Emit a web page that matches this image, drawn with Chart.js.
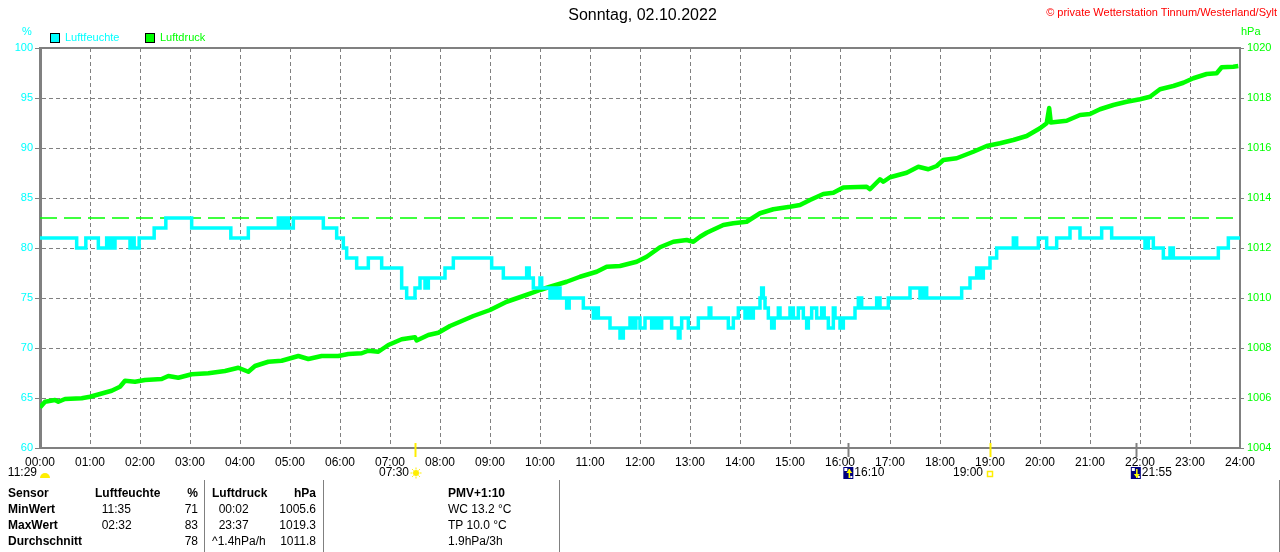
<!DOCTYPE html>
<html>
<head>
<meta charset="utf-8">
<script src="https://cdn.jsdelivr.net/npm/chart.js@4.4.0/dist/chart.umd.min.js"></script>
<style>
  body { margin: 0; background: #fff; }
  #wrap { position: relative; width: 1280px; height: 552px; overflow: hidden; font-family: "Liberation Sans", Arial, sans-serif; }
  #chart { position: absolute; left: 0; top: 0; }
  .t { position: absolute; font-size: 12px; line-height: 16px; white-space: pre; color: #000; }
  .b { font-weight: bold; }
  .sep { position: absolute; top: 480px; width: 1px; height: 72px; background: #808080; }
  #title { position: absolute; left: 0; top: 5px; width: 1285px; text-align: center; font-size: 16px; line-height: 20px; color: #000; }
  #copy { position: absolute; right: 3px; top: 4px; font-size: 11px; line-height: 16px; color: #ff0000; }
</style>
</head>
<body>
<div id="wrap">
  <canvas id="chart" width="1280" height="552"></canvas>
  <div id="title"></div>
  <div id="copy"></div>
</div>
<script>
// Texte
const titleText = "Sonntag, 02.10.2022";
const copyText = "© private Wetterstation Tinnum/Westerland/Sylt";
const seriesLabels = ["Luftfeuchte", "Luftdruck"];
const unitLabels = ["%", "hPa"];

// x-Achse: Minuten seit 00:00
const hourLabels = [
  "00:00", "01:00", "02:00", "03:00", "04:00", "05:00", "06:00", "07:00",
  "08:00", "09:00", "10:00", "11:00", "12:00", "13:00", "14:00", "15:00",
  "16:00", "17:00", "18:00", "19:00", "20:00", "21:00", "22:00", "23:00", "24:00",
];

// Luftfeuchte (%), Zeitpunkte der Wertwechsel
const humMinutes = [
  0, 44, 55, 70, 80, 83, 85, 88, 90, 108, 110, 113, 119, 137, 151, 182, 229, 250,
  286, 288, 290, 293, 295, 298, 304, 340, 356, 364, 368, 380, 394, 410, 434, 440,
  450, 456, 462, 466, 486, 496, 542, 556, 584, 587, 592, 600, 602, 612, 616, 619,
  622, 624, 632, 635, 652, 664, 667, 670, 684, 696, 700, 708, 712, 715, 720, 726,
  734, 738, 742, 746, 758, 766, 768, 770, 778, 790, 803, 805, 826, 832, 838, 846,
  850, 852, 856, 864, 866, 868, 870, 874, 878, 881, 886, 888, 900, 904, 910, 916,
  920, 922, 926, 932, 938, 941, 946, 952, 954, 960, 964, 978, 982, 986, 1004, 1008,
  1018, 1044, 1056, 1060, 1064, 1106, 1116, 1124, 1128, 1132, 1140, 1148, 1168, 1172,
  1198, 1208, 1220, 1236, 1248, 1274, 1286, 1326, 1330, 1336, 1348, 1356, 1360, 1414,
  1426, 1440,
];
const humValues = [
  81, 80, 81, 80, 81, 80, 81, 80, 81, 80, 81, 80, 81, 82, 83, 82, 81, 82,
  83, 82, 83, 82, 83, 82, 83, 82, 81, 80, 79, 78, 79, 78, 76, 75,
  76, 77, 76, 77, 78, 79, 78, 77, 78, 77, 76, 77, 76, 75, 76, 75,
  76, 75, 74, 75, 74, 73, 74, 73, 72, 71, 72, 73, 72, 73, 72, 73,
  72, 73, 72, 73, 72, 71, 72, 73, 72, 73, 74, 73, 72, 73, 74, 73,
  74, 73, 74, 75, 76, 75, 74, 73, 72, 73, 74, 73, 74, 73, 74, 73,
  72, 73, 74, 73, 74, 73, 72, 74, 73, 72, 73, 74, 75, 74, 75, 74,
  75, 76, 75, 76, 75, 76, 77, 78, 77, 78, 79, 80, 81, 80,
  81, 80, 81, 82, 81, 82, 81, 80, 81, 80, 79, 80, 79, 80,
  81, 81,
];

// Luftdruck (hPa)
const pressMinutes = [
  0, 6, 18, 22, 30, 50, 60, 72, 86, 96, 102, 114, 126, 146, 154, 166, 182, 202,
  222, 238, 250, 258, 274, 290, 310, 322, 338, 358, 370, 386, 394, 406, 418, 434,
  450, 452, 466, 478, 492, 504, 520, 540, 560, 580, 600, 612, 632, 648, 668, 680,
  696, 716, 728, 744, 760, 776, 784, 792, 800, 820, 832, 848, 864, 880, 900, 912,
  924, 940, 952, 964, 972, 992, 996, 1008, 1012, 1020, 1040, 1054, 1066, 1076, 1084,
  1100, 1120, 1136, 1152, 1168, 1184, 1200, 1208, 1211, 1213, 1232, 1248, 1260, 1272,
  1288, 1304, 1320, 1332, 1344, 1360, 1372, 1384, 1400, 1412, 1418, 1432, 1438,
];
const pressValues = [
  1005.62, 1005.85, 1005.92, 1005.85, 1005.96, 1005.99, 1006.05, 1006.16, 1006.29,
  1006.45, 1006.69, 1006.65, 1006.72, 1006.76, 1006.88, 1006.81, 1006.95, 1006.99,
  1007.08, 1007.21, 1007.05, 1007.28, 1007.45, 1007.49, 1007.68, 1007.56, 1007.68,
  1007.68, 1007.76, 1007.79, 1007.89, 1007.85, 1008.12, 1008.35, 1008.43, 1008.3,
  1008.52, 1008.61, 1008.88, 1009.05, 1009.28, 1009.52, 1009.85, 1010.08, 1010.32,
  1010.45, 1010.65, 1010.85, 1011.05, 1011.25, 1011.28, 1011.45, 1011.65, 1012.03,
  1012.25, 1012.32, 1012.25, 1012.45, 1012.61, 1012.92, 1012.99, 1013.05, 1013.39,
  1013.55, 1013.65, 1013.72, 1013.92, 1014.16, 1014.21, 1014.42, 1014.43, 1014.45,
  1014.35, 1014.75, 1014.65, 1014.83, 1015.01, 1015.25, 1015.15, 1015.28, 1015.52,
  1015.59, 1015.85, 1016.08, 1016.19, 1016.32, 1016.48, 1016.79, 1016.99, 1017.6,
  1017.02, 1017.09, 1017.32, 1017.36, 1017.55, 1017.72, 1017.85, 1017.95, 1018.05,
  1018.35, 1018.48, 1018.61, 1018.79, 1018.96, 1018.99, 1019.23, 1019.25, 1019.28,
];

// gestrichelte Linie (Max Luftfeuchte)
const humRefLine = 83;

// Sonne / Mond
const astroMinutes = [450, 970, 1140, 1315];
const astroLabels = ["07:30", "16:10", "19:00", "21:55"];
const dayLength = "11:29";

// Tabelle unten
const tableRows = [
  ["Sensor", "Luftfeuchte", "%", "Luftdruck", "hPa", "PMV+1:10"],
  ["MinWert", "  11:35", "71", "  00:02", "1005.6", "WC 13.2 °C"],
  ["MaxWert", "  02:32", "83", "  23:37", "1019.3", "TP 10.0 °C"],
  ["Durchschnitt", "", "78", "^1.4hPa/h", "1011.8", "1.9hPa/3h"],
];

const CYAN = "#00ffff";
const GREEN = "#00ff00";
const GRID = "#808080";
const FONT = '"Liberation Sans", Arial, sans-serif';
const NARROW = '"Liberation Sans Narrow", "Arial Narrow", "Liberation Sans", sans-serif';

document.getElementById("title").textContent = titleText;
document.getElementById("copy").textContent = copyText;

// Tabelle aufbauen
const wrap = document.getElementById("wrap");
const colLeft = [8, 95, null, 212, null, 448];
const colRight = [null, null, 198, null, 316, null];
const rowTop = [485, 501, 517, 533];
tableRows.forEach((row, r) => {
  row.forEach((txt, c) => {
    const el = document.createElement("div");
    el.className = "t" + (r === 0 || c === 0 ? " b" : "");
    el.textContent = txt;
    el.style.top = rowTop[r] + "px";
    if (colRight[c] !== null) {
      el.style.left = colRight[c] - 80 + "px";
      el.style.width = "80px";
      el.style.textAlign = "right";
    } else {
      el.style.left = colLeft[c] + "px";
    }
    wrap.appendChild(el);
  });
});
[204, 323, 559, 1279].forEach((x) => {
  const s = document.createElement("div");
  s.className = "sep";
  s.style.left = x + "px";
  wrap.appendChild(s);
});

function moonIcon(ctx, x, y, up) {
  ctx.fillStyle = "#00007f";
  ctx.fillRect(x, y, 10, 12);
  ctx.fillStyle = "#ffffff";
  ctx.fillRect(x + 1, y + 1, 3, 3);
  ctx.fillRect(x + 7, y + 9, 2, 2);
  ctx.strokeStyle = "#ffff00";
  ctx.fillStyle = "#ffff00";
  ctx.lineWidth = 1.5;
  const ax = x + 6;
  ctx.beginPath();
  ctx.moveTo(ax, y + 2);
  ctx.lineTo(ax, y + 11);
  ctx.stroke();
  ctx.beginPath();
  if (up) {
    ctx.moveTo(ax - 3, y + 6);
    ctx.lineTo(ax, y + 2);
    ctx.lineTo(ax + 3, y + 6);
  } else {
    ctx.moveTo(ax - 3, y + 7);
    ctx.lineTo(ax, y + 11);
    ctx.lineTo(ax + 3, y + 7);
  }
  ctx.fill();
}

const decor = {
  id: "decor",
  beforeDraw(chart) {
    const ctx = chart.ctx;
    ctx.save();
    ctx.fillStyle = "#fff";
    ctx.fillRect(0, 0, chart.width, chart.height);
    ctx.restore();
  },
  afterDraw(chart) {
    const { ctx, chartArea: a } = chart;
    const x = chart.scales.x;
    ctx.save();

    // oberer Rahmen
    ctx.strokeStyle = GRID;
    ctx.lineWidth = 2;
    ctx.beginPath();
    ctx.moveTo(a.left, a.top);
    ctx.lineTo(a.right, a.top);
    ctx.stroke();

    // Legende
    ctx.font = "11px " + FONT;
    ctx.textBaseline = "middle";
    const legX = [50, 145];
    chart.data.datasets.slice(0, 2).forEach((ds, i) => {
      ctx.fillStyle = ds.borderColor;
      ctx.fillRect(legX[i], 33, 10, 10);
      ctx.strokeStyle = "#000";
      ctx.lineWidth = 1;
      ctx.strokeRect(legX[i] + 0.5, 33.5, 9, 9);
      ctx.fillText(ds.label, legX[i] + 15, 38);
    });

    // Einheiten
    ctx.fillStyle = CYAN;
    ctx.textAlign = "center";
    ctx.fillText(unitLabels[0], 27, 32);
    ctx.fillStyle = GREEN;
    ctx.textAlign = "left";
    ctx.fillText(unitLabels[1], 1241, 32);

    // Sonne / Mond Markierungen
    const tickCol = ["#ffee00", GRID, "#ffee00", GRID];
    astroMinutes.forEach((m, i) => {
      const px = Math.round(x.getPixelForValue(m)) + 0.5;
      ctx.strokeStyle = tickCol[i];
      ctx.lineWidth = 2;
      ctx.beginPath();
      ctx.moveTo(px, 443);
      ctx.lineTo(px, 457);
      ctx.stroke();
    });

    ctx.font = "12px " + NARROW;
    ctx.fillStyle = "#000";
    ctx.textBaseline = "middle";
    // Tageslaenge
    ctx.textAlign = "right";
    ctx.fillText(dayLength, 37, 473);
    ctx.fillStyle = "#ffee00";
    ctx.beginPath();
    ctx.arc(45, 478, 5, Math.PI, 2 * Math.PI);
    ctx.fill();

    // Sonnenaufgang
    const sr = x.getPixelForValue(astroMinutes[0]);
    ctx.fillStyle = "#000";
    ctx.fillText(astroLabels[0], sr - 6, 473);
    ctx.fillStyle = "#ffee00";
    ctx.strokeStyle = "#ffee00";
    ctx.beginPath();
    ctx.arc(sr + 1, 473, 3, 0, 2 * Math.PI);
    ctx.fill();
    ctx.lineWidth = 1;
    for (let k = 0; k < 8; k++) {
      const ang = (k * Math.PI) / 4;
      ctx.beginPath();
      ctx.moveTo(sr + 1 + Math.cos(ang) * 3.5, 473 + Math.sin(ang) * 3.5);
      ctx.lineTo(sr + 1 + Math.cos(ang) * 5.5, 473 + Math.sin(ang) * 5.5);
      ctx.stroke();
    }

    // Mondaufgang
    const mr = x.getPixelForValue(astroMinutes[1]);
    moonIcon(ctx, mr - 5, 467, true);
    ctx.fillStyle = "#000";
    ctx.textAlign = "left";
    ctx.fillText(astroLabels[1], mr + 6, 473);

    // Sonnenuntergang
    const ss = x.getPixelForValue(astroMinutes[2]);
    ctx.textAlign = "right";
    ctx.fillText(astroLabels[2], ss - 7, 473);
    ctx.strokeStyle = "#ffee00";
    ctx.lineWidth = 1.5;
    ctx.strokeRect(ss - 2.5, 471.5, 5, 5);

    // Monduntergang
    const ms = x.getPixelForValue(astroMinutes[3]);
    moonIcon(ctx, ms - 5, 467, false);
    ctx.fillStyle = "#000";
    ctx.textAlign = "left";
    ctx.fillText(astroLabels[3], ms + 6, 473);

    ctx.restore();
  },
};

const humData = humMinutes.map((m, i) => ({ x: m, y: humValues[i] }));
const pressData = pressMinutes.map((m, i) => ({ x: m, y: pressValues[i] }));

new Chart(document.getElementById("chart"), {
  type: "line",
  data: {
    datasets: [
      {
        label: seriesLabels[0],
        data: humData,
        yAxisID: "y",
        borderColor: CYAN,
        backgroundColor: CYAN,
        borderWidth: 3.5,
        stepped: true,
        pointRadius: 0,
      },
      {
        label: seriesLabels[1],
        data: pressData,
        yAxisID: "y1",
        borderColor: GREEN,
        backgroundColor: GREEN,
        borderWidth: 4.5,
        borderJoinStyle: "round",
        pointRadius: 0,
      },
      {
        label: "ref",
        data: [{ x: 0, y: humRefLine }, { x: 1440, y: humRefLine }],
        yAxisID: "y",
        borderColor: GREEN,
        borderWidth: 1.5,
        borderDash: [17, 7],
        pointRadius: 0,
      },
    ],
  },
  options: {
    responsive: false,
    animation: false,
    devicePixelRatio: 1,
    layout: { padding: { top: 48, left: 0, right: 0, bottom: 0 } },
    plugins: { legend: { display: false }, tooltip: { enabled: false } },
    scales: {
      x: {
        type: "linear",
        min: 0,
        max: 1440,
        afterFit: (s) => { s.height = 104; },
        afterBuildTicks: (s) => { s.ticks = hourLabels.map((_, i) => ({ value: i * 60 })); },
        ticks: {
          autoSkip: false,
          maxRotation: 0,
          padding: 7,
          color: "#000",
          font: { size: 12, family: NARROW },
          callback: (v) => hourLabels[Math.round(v / 60)],
        },
        grid: { color: GRID, lineWidth: 1, drawTicks: false },
        border: { color: GRID, width: 2, dash: [4, 3] },
      },
      y: {
        position: "left",
        min: 60,
        max: 100,
        afterFit: (s) => { s.width = 40; },
        ticks: { stepSize: 5, padding: 2, color: CYAN, font: { size: 11, family: FONT }, callback: (v) => String(v) },
        grid: { color: GRID, lineWidth: 1, tickLength: 5 },
        border: { color: GRID, width: 3, dash: [4, 3] },
      },
      y1: {
        position: "right",
        min: 1004,
        max: 1020,
        afterFit: (s) => { s.width = 40; },
        ticks: { stepSize: 2, padding: 3, color: GREEN, font: { size: 11, family: FONT }, callback: (v) => String(v) },
        grid: { drawOnChartArea: false, color: GRID, tickLength: 4 },
        border: { color: GRID, width: 2 },
      },
    },
  },
  plugins: [decor],
});
</script>
</body>
</html>
